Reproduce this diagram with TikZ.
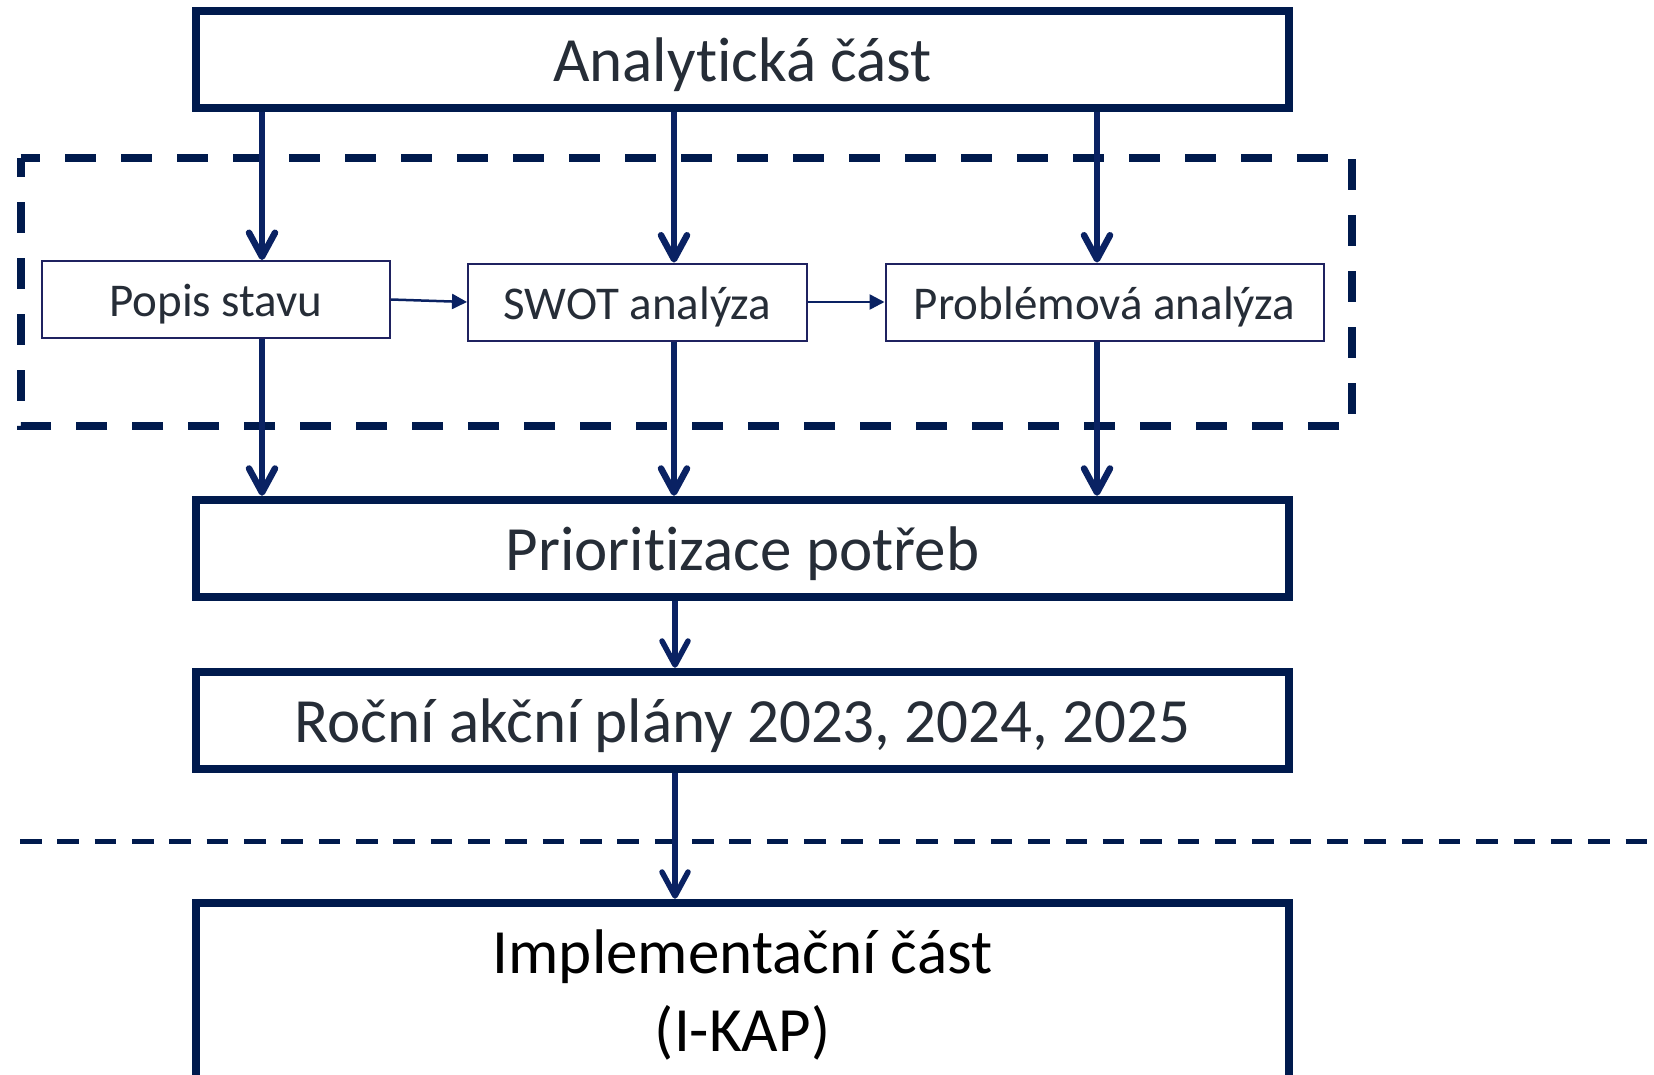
\documentclass[tikz,border=0pt]{standalone}
\usepackage{fontspec}
\setmainfont{Carlito}[Ligatures=CommonOff]
\usetikzlibrary{arrows.meta}
\definecolor{navy}{HTML}{001A4D}
\definecolor{arrowc}{HTML}{0A2263}
\definecolor{thinb}{HTML}{1F2260}
\definecolor{txt}{HTML}{262D37}
\begin{document}
\begin{tikzpicture}[x=1pt,y=-1pt,
  bigbox/.style={draw=navy,line width=8.5pt,minimum width=1093pt,minimum height=97pt,inner sep=0pt,text=txt,font=\fontsize{63}{78}\selectfont,text height=52pt,text depth=8pt},
  smallbox/.style={draw=thinb,line width=2pt,minimum height=77pt,inner sep=0pt,text=txt,font=\fontsize{47}{56}\selectfont,text height=40pt,text depth=6pt},
  bigtext/.style={inner sep=0pt,anchor=base,text=black,font=\fontsize{63}{78}\selectfont},
  varrow/.style={draw=arrowc,line width=6.5pt,-{Straight Barb[length=24pt,width=26pt,line cap=round,line join=round]}},
  varrowb/.style={varrow,line width=5.5pt},
  harrow/.style={draw=arrowc,line width=2.5pt,-{Triangle[length=15pt,width=15pt]}},
  groupframe/.style={draw=navy,line width=8pt,dash pattern=on 31pt off 25pt,dash phase=11.5pt},
  divider/.style={draw=navy,line width=5pt,dash pattern=on 21.5pt off 15.84pt}]
\useasboundingbox (0,0) rectangle (1654,1074);
\fill[white] (0,0) rectangle (1654,1074);

% group frame and divider
\draw[groupframe] (20.5,158) -- (1352,158) -- (1352,426) -- (20.5,426) -- cycle;
\draw[divider] (20,841) -- (1654,841);

% nodes
\node[bigbox] (ana) at (742.5,59.5) {Analytická část};
\node[smallbox,minimum width=348pt] (popis) at (216,299.5) {Popis stavu};
\node[smallbox,minimum width=339pt] (swot) at (637.5,302) {SWOT analýza};
\node[smallbox,minimum width=438pt] (prob) at (1104.5,302) {Problémová analýza};
\node[bigbox] (prior) at (742.5,548.5) {Prioritizace potřeb};
\node[bigbox] (rocni) at (742.5,720.5) {Roční akční plány 2023, 2024, 2025};
\node[bigbox,minimum height=177pt] (impl) at (742.5,991.5) {};
\node[bigtext] (impl1) at (742.5,973) {Implementační část};
\node[bigtext] (impl2) at (742.5,1051) {(I-KAP)};

% connector columns
\coordinate (xa) at (262,0);
\coordinate (xb) at (674,0);
\coordinate (xc) at (1097,0);
\coordinate (xd) at (675,0);

\draw[varrow] (xa |- ana.south) -- (xa |- popis.north);
\draw[varrow] (xb |- ana.south) -- (xb |- swot.north);
\draw[varrow] (xc |- ana.south) -- (xc |- prob.north);

\draw[varrow] (xa |- popis.south) -- (xa |- prior.north);
\draw[varrow] (xb |- swot.south) -- (xb |- prior.north);
\draw[varrow] (xc |- prob.south) -- (xc |- prior.north);

\draw[varrowb] (xd |- prior.south) -- (xd |- rocni.north);
\draw[varrowb] (xd |- rocni.south) -- (xd |- impl.north);

\draw[harrow] (popis.east) -- (swot.west);
\draw[harrow] (swot.east) -- (prob.west);
\end{tikzpicture}
\end{document}
